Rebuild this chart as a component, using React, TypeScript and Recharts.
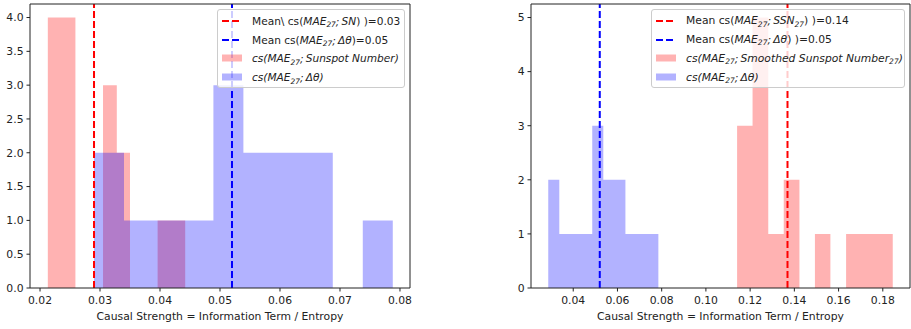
import React from 'react';
import { ComposedChart, Area, XAxis, YAxis, ReferenceLine } from 'recharts';

// histogram bin edges and counts (10 bins each)
const snEdges = [0.0213, 0.0236, 0.0259, 0.0282, 0.0305, 0.0328, 0.035, 0.0373, 0.0396, 0.0419, 0.0442];
const snCounts = [4, 4, 0, 0, 3, 2, 0, 0, 1, 1];
const dthetaLeftEdges = [0.029, 0.034, 0.039, 0.0439, 0.0489, 0.0539, 0.0589, 0.0639, 0.0688, 0.0738, 0.0788];
const dthetaLeftCounts = [2, 1, 1, 1, 3, 2, 2, 2, 0, 1];

const ssnEdges = [0.1141, 0.1211, 0.1282, 0.1352, 0.1423, 0.1493, 0.1563, 0.1634, 0.1704, 0.1775, 0.1845];
const ssnCounts = [3, 5, 1, 2, 0, 1, 0, 1, 1, 1];
const dthetaRightEdges = [0.0287, 0.0337, 0.0387, 0.0436, 0.0486, 0.0536, 0.0586, 0.0636, 0.0686, 0.0735, 0.0785];
const dthetaRightCounts = [2, 1, 1, 1, 3, 2, 2, 1, 1, 1];

const snMean = 0.029;
const dthetaLeftMean = 0.052;
const ssnMean = 0.1369;
const dthetaRightMean = 0.052;

const leftXTicks = [0.02, 0.03, 0.04, 0.05, 0.06, 0.07, 0.08];
const leftYTicks = [0, 0.5, 1, 1.5, 2, 2.5, 3, 3.5, 4];
const rightXTicks = [0.04, 0.06, 0.08, 0.1, 0.12, 0.14, 0.16, 0.18];
const rightYTicks = [0, 1, 2, 3, 4, 5];

const FONT = '"DejaVu Sans", sans-serif';
const FS = 10.8;
const INK = '#222';
const RED = '#ff0000';
const BLUE = '#0000ff';
const xLabel = 'Causal Strength = Information Term / Entropy';

function binValue(edges: number[], counts: number[], x: number) {
  for (let i = 0; i < counts.length; i++) {
    if (x >= edges[i] && x < edges[i + 1]) return counts[i];
  }
  return 0;
}

// merge both histograms onto one step table
function stepTable(aEdges: number[], aCounts: number[], bEdges: number[], bCounts: number[]) {
  const xs = Array.from(new Set([...aEdges, ...bEdges])).sort((p, q) => p - q);
  return xs.map((x) => ({ x, a: binValue(aEdges, aCounts, x), b: binValue(bEdges, bCounts, x) }));
}

const leftData = stepTable(snEdges, snCounts, dthetaLeftEdges, dthetaLeftCounts);
const rightData = stepTable(ssnEdges, ssnCounts, dthetaRightEdges, dthetaRightCounts);

const tickStyle = { fontSize: FS, fill: INK, fontFamily: FONT };

type HistProps = {
  data: { x: number; a: number; b: number }[];
  width: number;
  yWidth: number;
  marginRight: number;
  xDomain: [number, number];
  yDomain: [number, number];
  xTicks: number[];
  yTicks: number[];
  yFormat: (v: number) => string;
  redMean: number;
  blueMean: number;
};

function Hist({ data, width, yWidth, marginRight, xDomain, yDomain, xTicks, yTicks, yFormat, redMean, blueMean }: HistProps) {
  return (
    <ComposedChart width={width} height={329} data={data} margin={{ top: 4, right: marginRight, bottom: 0, left: 0 }}>
      <XAxis
        type="number"
        dataKey="x"
        domain={xDomain}
        ticks={xTicks}
        allowDataOverflow
        tickFormatter={(v: number) => v.toFixed(2)}
        tick={tickStyle}
        tickSize={3.5}
        tickMargin={5}
        stroke={INK}
        height={41}
        label={{ value: xLabel, position: 'insideBottom', offset: 9, style: { fontSize: FS, fill: INK, fontFamily: FONT } }}
      />
      <YAxis
        type="number"
        domain={yDomain}
        ticks={yTicks}
        allowDataOverflow
        tickFormatter={yFormat}
        tick={tickStyle}
        tickSize={3.5}
        tickMargin={3}
        stroke={INK}
        width={yWidth}
      />
      <Area type="stepAfter" dataKey="a" stroke="none" fill={RED} fillOpacity={0.3} isAnimationActive={false} />
      <Area type="stepAfter" dataKey="b" stroke="none" fill={BLUE} fillOpacity={0.3} isAnimationActive={false} />
      <ReferenceLine x={redMean} stroke={RED} strokeWidth={2} strokeDasharray="7 3" />
      <ReferenceLine x={blueMean} stroke={BLUE} strokeWidth={2} strokeDasharray="7 3" />
      {/* top and right spines */}
      <ReferenceLine y={yDomain[1]} stroke={INK} strokeWidth={1} />
      <ReferenceLine x={xDomain[1]} stroke={INK} strokeWidth={1} />
    </ComposedChart>
  );
}

const Sub = ({ children }: { children: React.ReactNode }) => (
  <span style={{ fontSize: '0.7em', position: 'relative', top: '0.3em' }}>{children}</span>
);

function Handle({ kind, color }: { kind: 'line' | 'patch'; color: string }) {
  return (
    <svg width={20} height={10} style={{ display: 'block', flex: 'none' }}>
      {kind === 'line' ? (
        <line x1={0} y1={5} x2={20} y2={5} stroke={color} strokeWidth={2} strokeDasharray="7 3" />
      ) : (
        <rect x={0} y={1.5} width={20} height={7} fill={color} fillOpacity={0.3} />
      )}
    </svg>
  );
}

type LegendItem = { kind: 'line' | 'patch'; color: string; text: React.ReactNode };

function LegendBox({ left, width, fontSize, items }: { left: number; width: number; fontSize: number; items: LegendItem[] }) {
  return (
    <div
      style={{
        position: 'absolute',
        left,
        top: 9,
        width,
        height: 79,
        boxSizing: 'border-box',
        border: '1px solid #ccc',
        borderRadius: 3,
        background: 'rgba(255,255,255,0.8)',
        padding: '1.5px 0 0 4px',
        fontFamily: FONT,
        fontSize,
        color: INK,
      }}
    >
      {items.map((it, i) => (
        <div key={i} style={{ display: 'flex', alignItems: 'center', height: 18.8, whiteSpace: 'nowrap' }}>
          <Handle kind={it.kind} color={it.color} />
          <span style={{ marginLeft: 10 }}>{it.text}</span>
        </div>
      ))}
    </div>
  );
}

const I = ({ children }: { children: React.ReactNode }) => <span style={{ fontStyle: 'italic' }}>{children}</span>;

const leftLegend: LegendItem[] = [
  { kind: 'line', color: RED, text: <>Mean\ cs(<I>MAE<Sub>27</Sub>;{'\u2009'}SN</I>) )=0.03</> },
  { kind: 'line', color: BLUE, text: <>Mean cs(<I>MAE<Sub>27</Sub>;{'\u2009'}Δθ</I>)=0.05</> },
  { kind: 'patch', color: RED, text: <I>cs(MAE<Sub>27</Sub>;{'\u2009'}Sunspot Number)</I> },
  { kind: 'patch', color: BLUE, text: <I>cs(MAE<Sub>27</Sub>;{'\u2009'}Δθ)</I> },
];

const rightLegend: LegendItem[] = [
  { kind: 'line', color: RED, text: <>Mean cs(<I>MAE<Sub>27</Sub>;{'\u2009'}SSN<Sub>27</Sub></I>) )=0.14</> },
  { kind: 'line', color: BLUE, text: <>Mean cs(<I>MAE<Sub>27</Sub>;{'\u2009'}Δθ</I>) )=0.05</> },
  { kind: 'patch', color: RED, text: <I>cs(MAE<Sub>27</Sub>;{'\u2009'}Smoothed Sunspot Number<Sub>27</Sub>)</I> },
  { kind: 'patch', color: BLUE, text: <I>cs(MAE<Sub>27</Sub>;{'\u2009'}Δθ)</I> },
];

export default function App() {
  return (
    <div style={{ position: 'absolute', left: 0, top: 0, width: 911, height: 329, background: '#fff', overflow: 'hidden' }}>
      <div style={{ position: 'absolute', left: 0, top: 0 }}>
        <Hist
          data={leftData}
          width={460}
          yWidth={30}
          marginRight={50}
          xDomain={[0.01833, 0.08167]}
          yDomain={[0, 4.2]}
          xTicks={leftXTicks}
          yTicks={leftYTicks}
          yFormat={(v) => v.toFixed(1)}
          redMean={snMean}
          blueMean={dthetaLeftMean}
        />
      </div>
      <div style={{ position: 'absolute', left: 480, top: 0 }}>
        <Hist
          data={rightData}
          width={431}
          yWidth={51}
          marginRight={1}
          xDomain={[0.0209, 0.1923]}
          yDomain={[0, 5.25]}
          xTicks={rightXTicks}
          yTicks={rightYTicks}
          yFormat={(v) => String(v)}
          redMean={ssnMean}
          blueMean={dthetaRightMean}
        />
      </div>
      <LegendBox left={217} width={188} fontSize={10.6} items={leftLegend} />
      <LegendBox left={651} width={254} fontSize={10.75} items={rightLegend} />
    </div>
  );
}
